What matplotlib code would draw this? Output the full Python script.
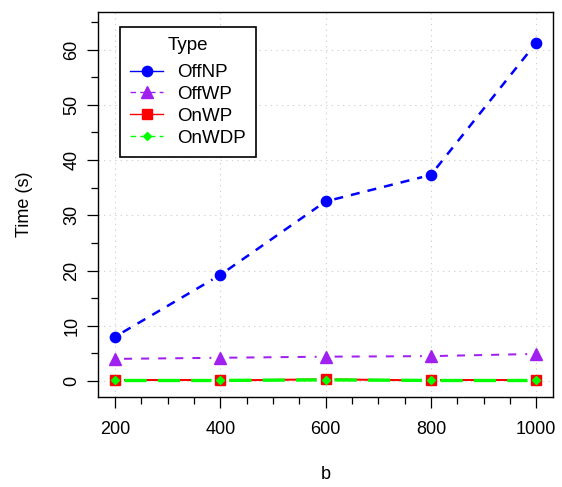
import matplotlib
matplotlib.use("Agg")
import matplotlib.pyplot as plt
from matplotlib.lines import Line2D
import numpy as np

plt.rcParams["font.family"] = ["Liberation Sans", "DejaVu Sans"]
plt.rcParams["lines.scale_dashes"] = False

b = [200, 400, 600, 800, 1000]
off_np = [8.0, 19.2, 32.5, 37.3, 61.2]
off_wp = [4.0, 4.2, 4.4, 4.5, 4.9]
on_wp = [0.1, 0.1, 0.3, 0.1, 0.1]
on_wdp = [0.1, 0.1, 0.2, 0.1, 0.1]

# name, values, colour, marker, markersize, plot linestyle, plot lw, legend linestyle
series = [
    ("OffNP", off_np, "#0000FF", "o", 7.4, (0, (6.5, 5.8)), 1.8, "-"),
    ("OffWP", off_wp, "#A020F0", "^", 8.0, (0, (5.8, 6.5)), 1.45, (0, (4, 3))),
    ("OnWP", on_wp, "#FF0000", "s", 7.0, "-", 1.45, "-"),
    ("OnWDP", on_wdp, "#00FF00", "D", 4.3, (0, (16, 8)), 2.4, (0, (4, 3))),
]

fig = plt.figure(figsize=(5.62, 4.87), dpi=100)
ax = fig.add_axes([0.1744, 0.1848, 0.8096, 0.7906])
ax.set_xlim(167.7, 1032)
ax.set_ylim(-2.9, 66.8)

ax.set_xticks(b)
ax.set_xticks(np.arange(200, 1001, 50), minor=True)
ax.set_yticks(np.arange(0, 61, 10))
ax.set_yticks(np.arange(0, 66, 5), minor=True)
ax.grid(True, which="major", color="#D3D3D3", linestyle=(0, (1, 3)), linewidth=0.8)
ax.tick_params(which="major", length=7.6, width=0.9, direction="out", labelsize=13)
ax.tick_params(axis="x", which="major", pad=10)
ax.tick_params(axis="y", which="major", pad=5)
ax.tick_params(which="minor", length=4.8, width=0.9, direction="out")
for lab in ax.get_yticklabels():
    lab.set_rotation(90)
    lab.set_va("center")
for sp in ax.spines.values():
    sp.set_linewidth(1.0)

ax.set_xlabel("b", fontsize=13, labelpad=20)
ax.set_ylabel("Time (s)", fontsize=13, labelpad=22)

# lines with gaps around points (R type="b")
gap = 9.0
trans = ax.transData
inv = trans.inverted()
for name, ys, col, mk, ms, ls, lw, _ in series:
    pts = trans.transform(np.column_stack([b, ys]))
    for i in range(len(pts) - 1):
        p0, p1 = pts[i], pts[i + 1]
        d = p1 - p0
        L = np.hypot(*d)
        if L <= 2 * gap:
            continue
        u = d / L
        q = inv.transform(np.array([p0 + u * gap, p1 - u * gap]))
        ax.plot(q[:, 0], q[:, 1], color=col, linestyle=ls, linewidth=lw,
                solid_capstyle="butt", dash_capstyle="butt")
    ax.plot(b, ys, linestyle="none", marker=mk, markersize=ms, color=col,
            markeredgecolor=col, zorder=3)

handles = []
for name, ys, col, mk, ms, ls, lw, lls in series:
    handles.append(Line2D([], [], color=col, linestyle=lls, linewidth=1.0,
                          marker=mk, markersize=ms, markeredgecolor=col))
leg = ax.legend(handles, [s[0] for s in series], title="Type", loc="upper left",
                bbox_to_anchor=(0.0484, 0.961), borderaxespad=0,
                fontsize=13.5, title_fontsize=13.5,
                frameon=True, fancybox=False, edgecolor="black", framealpha=1,
                handlelength=1.75, borderpad=0.55, labelspacing=0.25,
                handletextpad=0.75)
leg._legend_box.sep = 7.0
leg.get_frame().set_linewidth(1.2)

fig.savefig("out.png", dpi=100)
